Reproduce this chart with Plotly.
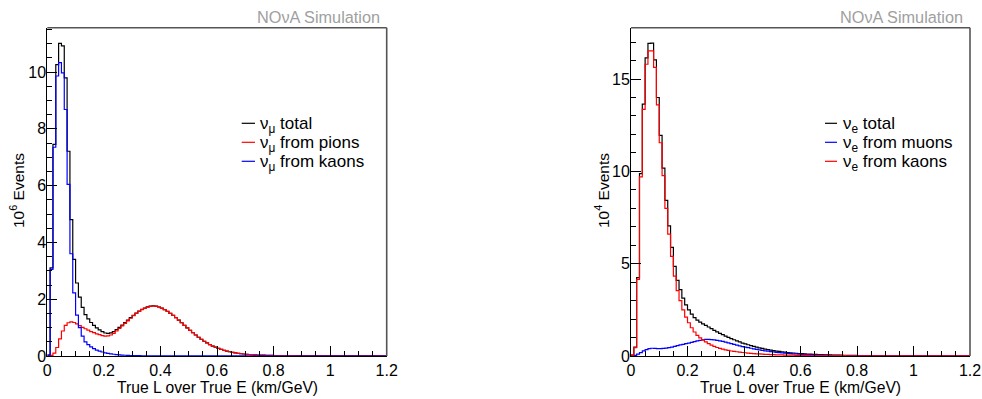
import plotly.graph_objects as go

# Binning of L/E histograms (km/GeV)
BIN_WIDTH = 0.01
N_BINS = 120
EDGES = [round(i * BIN_WIDTH, 4) for i in range(N_BINS + 1)]

# ---- nu_mu spectrum, units of 10^6 events ----
NUMU_TOTAL = [
    0.03, 3.10, 7.45, 10.26, 11.01, 10.92, 9.79, 7.21, 4.80, 3.40,
    2.57, 2.07, 1.71, 1.46, 1.31, 1.18, 1.08, 0.99, 0.92, 0.86,
    0.81, 0.80, 0.815, 0.86, 0.93, 1.01, 1.09, 1.18, 1.26, 1.35,
    1.435, 1.51, 1.58, 1.64, 1.69, 1.73, 1.755, 1.765, 1.755, 1.725,
    1.685, 1.635, 1.575, 1.50, 1.43, 1.35, 1.26, 1.17, 1.08, 0.99,
    0.90, 0.82, 0.74, 0.66, 0.59, 0.52, 0.46, 0.40, 0.35, 0.31,
    0.27, 0.23, 0.20, 0.17, 0.15, 0.13, 0.11, 0.095, 0.08, 0.07,
    0.06, 0.052, 0.046, 0.04, 0.035, 0.031, 0.028, 0.025, 0.022, 0.02,
    0.018, 0.016, 0.014, 0.013, 0.012, 0.011, 0.01, 0.009, 0.008, 0.007,
    0.006, 0.006, 0.005, 0.005, 0.004, 0.004, 0.004, 0.003, 0.003, 0.003,
    0.003, 0.002, 0.002, 0.002, 0.002, 0.002, 0.002, 0.001, 0.001, 0.001,
    0.001, 0.001, 0.001, 0.001, 0.001, 0.001, 0.001, 0.001, 0.001, 0.001,
]
NUMU_PIONS = [
    0.0, 0.02, 0.10, 0.30, 0.60, 0.88, 1.08, 1.17, 1.20, 1.18,
    1.13, 1.07, 1.01, 0.96, 0.91, 0.86, 0.82, 0.78, 0.75, 0.72,
    0.70, 0.71, 0.74, 0.80, 0.88, 0.97, 1.06, 1.15, 1.24, 1.33,
    1.42, 1.50, 1.57, 1.63, 1.68, 1.72, 1.75, 1.76, 1.75, 1.72,
    1.68, 1.63, 1.57, 1.50, 1.43, 1.35, 1.26, 1.17, 1.08, 0.99,
    0.90, 0.82, 0.74, 0.66, 0.59, 0.52, 0.46, 0.40, 0.35, 0.31,
    0.27, 0.23, 0.20, 0.17, 0.15, 0.13, 0.11, 0.095, 0.08, 0.07,
    0.06, 0.052, 0.046, 0.04, 0.035, 0.031, 0.028, 0.025, 0.022, 0.02,
    0.018, 0.016, 0.014, 0.013, 0.012, 0.011, 0.01, 0.009, 0.008, 0.007,
    0.006, 0.006, 0.005, 0.005, 0.004, 0.004, 0.004, 0.003, 0.003, 0.003,
    0.003, 0.002, 0.002, 0.002, 0.002, 0.002, 0.002, 0.001, 0.001, 0.001,
    0.001, 0.001, 0.001, 0.001, 0.001, 0.001, 0.001, 0.001, 0.001, 0.001,
]
NUMU_KAONS = [
    0.03, 3.05, 7.35, 9.86, 10.33, 9.97, 8.68, 6.04, 3.60, 2.22,
    1.44, 1.00, 0.70, 0.50, 0.40, 0.32, 0.26, 0.21, 0.17, 0.14,
    0.11, 0.09, 0.075, 0.062, 0.05, 0.04, 0.033, 0.027, 0.022, 0.018,
    0.015, 0.012, 0.01, 0.008, 0.007, 0.006, 0.005, 0.004, 0.004, 0.003,
    0.003, 0.003, 0.002, 0.002, 0.002, 0.002, 0.002, 0.002, 0.002, 0.002,
    0.002, 0.002, 0.002, 0.002, 0.002, 0.001, 0.001, 0.001, 0.001, 0.001,
    0.001, 0.001, 0.001, 0.001, 0.001, 0.001, 0.001, 0.001, 0.001, 0.001,
    0.001, 0.001, 0.001, 0.001, 0.001, 0.001, 0.001, 0.001, 0.001, 0.001,
    0.0, 0.0, 0.0, 0.0, 0.0, 0.0, 0.0, 0.0, 0.0, 0.0,
    0.0, 0.0, 0.0, 0.0, 0.0, 0.0, 0.0, 0.0, 0.0, 0.0,
    0.0, 0.0, 0.0, 0.0, 0.0, 0.0, 0.0, 0.0, 0.0, 0.0,
    0.0, 0.0, 0.0, 0.0, 0.0, 0.0, 0.0, 0.0, 0.0, 0.0,
]

# ---- nu_e spectrum, units of 10^4 events ----
NUE_TOTAL = [
    0.05, 0.48, 4.25, 9.88, 13.64, 16.15, 16.93, 16.95, 16.04, 14.00,
    11.95, 10.18, 8.43, 7.05, 5.88, 4.85, 4.10, 3.60, 3.13, 2.77,
    2.50, 2.27, 2.08, 1.94, 1.83, 1.74, 1.66, 1.57, 1.48, 1.39,
    1.31, 1.23, 1.16, 1.08, 1.01, 0.94, 0.88, 0.82, 0.76, 0.70,
    0.655, 0.61, 0.565, 0.52, 0.48, 0.44, 0.41, 0.372, 0.345, 0.318,
    0.292, 0.266, 0.246, 0.226, 0.207, 0.188, 0.175, 0.162, 0.149, 0.136,
    0.126, 0.117, 0.108, 0.099, 0.092, 0.086, 0.08, 0.074, 0.069, 0.064,
    0.059, 0.054, 0.05, 0.046, 0.043, 0.04, 0.037, 0.034, 0.031, 0.029,
    0.027, 0.025, 0.023, 0.021, 0.02, 0.018, 0.017, 0.016, 0.015, 0.014,
    0.013, 0.012, 0.011, 0.011, 0.01, 0.01, 0.009, 0.009, 0.008, 0.008,
    0.008, 0.007, 0.007, 0.007, 0.006, 0.006, 0.006, 0.006, 0.005, 0.005,
    0.005, 0.005, 0.005, 0.005, 0.004, 0.004, 0.004, 0.004, 0.004, 0.004,
]
NUE_MUONS = [
    0.0, 0.03, 0.10, 0.18, 0.28, 0.35, 0.40, 0.42, 0.41, 0.40,
    0.40, 0.41, 0.43, 0.45, 0.48, 0.52, 0.56, 0.60, 0.63, 0.67,
    0.70, 0.74, 0.78, 0.82, 0.85, 0.88, 0.90, 0.90, 0.89, 0.87,
    0.85, 0.82, 0.79, 0.75, 0.71, 0.67, 0.63, 0.59, 0.55, 0.51,
    0.48, 0.45, 0.42, 0.39, 0.36, 0.33, 0.31, 0.28, 0.26, 0.24,
    0.22, 0.20, 0.185, 0.17, 0.155, 0.14, 0.13, 0.12, 0.11, 0.10,
    0.092, 0.085, 0.078, 0.071, 0.065, 0.06, 0.055, 0.05, 0.046, 0.042,
    0.038, 0.035, 0.032, 0.029, 0.027, 0.025, 0.023, 0.021, 0.019, 0.018,
    0.016, 0.015, 0.014, 0.013, 0.012, 0.011, 0.01, 0.009, 0.009, 0.008,
    0.008, 0.007, 0.007, 0.006, 0.006, 0.006, 0.005, 0.005, 0.005, 0.005,
    0.004, 0.004, 0.004, 0.004, 0.004, 0.003, 0.003, 0.003, 0.003, 0.003,
    0.003, 0.003, 0.003, 0.003, 0.002, 0.002, 0.002, 0.002, 0.002, 0.002,
]
NUE_KAONS = [
    0.05, 0.45, 4.15, 9.70, 13.36, 15.80, 16.53, 16.53, 15.63, 13.60,
    11.55, 9.77, 8.00, 6.60, 5.40, 4.33, 3.54, 3.00, 2.50, 2.10,
    1.80, 1.53, 1.30, 1.12, 0.98, 0.86, 0.76, 0.67, 0.59, 0.52,
    0.46, 0.41, 0.37, 0.33, 0.30, 0.27, 0.25, 0.23, 0.21, 0.19,
    0.175, 0.16, 0.145, 0.13, 0.12, 0.11, 0.10, 0.092, 0.085, 0.078,
    0.072, 0.066, 0.061, 0.056, 0.052, 0.048, 0.045, 0.042, 0.039, 0.036,
    0.034, 0.032, 0.03, 0.028, 0.027, 0.026, 0.025, 0.024, 0.023, 0.022,
    0.021, 0.019, 0.018, 0.017, 0.016, 0.015, 0.014, 0.013, 0.012, 0.011,
    0.011, 0.01, 0.009, 0.008, 0.008, 0.007, 0.007, 0.007, 0.006, 0.006,
    0.005, 0.005, 0.004, 0.005, 0.004, 0.004, 0.004, 0.004, 0.003, 0.003,
    0.004, 0.003, 0.003, 0.003, 0.002, 0.003, 0.003, 0.003, 0.002, 0.002,
    0.002, 0.002, 0.002, 0.002, 0.002, 0.002, 0.002, 0.002, 0.002, 0.002,
]

for series in (NUMU_TOTAL, NUMU_PIONS, NUMU_KAONS, NUE_TOTAL, NUE_MUONS, NUE_KAONS):
    assert len(series) == N_BINS

# ---- layout geometry (pixels) ----
W, H = 982, 399
FONT = "Liberation Sans, Arial, Helvetica, sans-serif"
PANELS = [
    dict(x0=47.3, x1=386.7, ymax=11.56, ydtick=2, yminor=0.5, xa="x", ya="y",
         ytitle="10<sup>6</sup> Events", ytitle_x=17, nova_x=381.7),
    dict(x0=631.0, x1=970.0, ymax=17.78, ydtick=5, yminor=1, xa="x2", ya="y2",
         ytitle="10<sup>4</sup> Events", ytitle_x=602, nova_x=965.0),
]
PLOT_TOP, PLOT_BOTTOM = 27.7, 356.0


def px(x):
    return x / W


def py(y):
    return 1 - y / H


def step_xy(values):
    # histogram outline: one horizontal segment per bin
    return EDGES, list(values) + [values[-1]]


fig = go.Figure()

left_series = [
    (NUMU_TOTAL, "black", "ν<sub>μ</sub> total"),
    (NUMU_PIONS, "red", "ν<sub>μ</sub> from pions"),
    (NUMU_KAONS, "blue", "ν<sub>μ</sub> from kaons"),
]
right_series = [
    (NUE_TOTAL, "black", "ν<sub>e</sub> total"),
    (NUE_MUONS, "blue", "ν<sub>e</sub> from muons"),
    (NUE_KAONS, "red", "ν<sub>e</sub> from kaons"),
]

for panel, series_list in zip(PANELS, (left_series, right_series)):
    for values, color, name in series_list:
        xs, ys = step_xy(values)
        fig.add_trace(go.Scatter(
            x=xs, y=ys, mode="lines", line=dict(color=color, width=1.2, shape="hv"),
            name=name, showlegend=False, xaxis=panel["xa"], yaxis=panel["ya"],
            hoverinfo="skip",
        ))

annotations = []
shapes = []
for i, panel in enumerate(PANELS):
    sfx = "" if i == 0 else "2"
    common = dict(
        showline=True, linecolor="black", linewidth=1, mirror=False,
        ticks="inside", tickcolor="black", tickwidth=1, ticklen=10,
        showgrid=False, zeroline=False, automargin=False,
        tickfont=dict(family=FONT, size=16, color="black"),
    )
    fig.layout["xaxis" + sfx] = dict(
        common, domain=[px(panel["x0"]), px(panel["x1"])], range=[0, 1.2],
        tick0=0, dtick=0.2, anchor="y" + sfx,
        minor=dict(ticks="inside", ticklen=5, tickcolor="black", dtick=0.05, showgrid=False),
    )
    fig.layout["yaxis" + sfx] = dict(
        common, domain=[py(PLOT_BOTTOM), py(PLOT_TOP)], range=[0, panel["ymax"]],
        tick0=0, dtick=panel["ydtick"], anchor="x" + sfx, ticklabelstandoff=-3,
        minor=dict(ticks="inside", ticklen=5, tickcolor="black", dtick=panel["yminor"], showgrid=False),
    )
    # top and right frame edges
    for (ax0, ay0, ax1, ay1) in [
        (panel["x0"], PLOT_TOP, panel["x1"], PLOT_TOP),
        (panel["x1"], PLOT_TOP, panel["x1"], PLOT_BOTTOM),
    ]:
        shapes.append(dict(type="line", xref="paper", yref="paper",
                           x0=px(ax0), y0=py(ay0), x1=px(ax1), y1=py(ay1),
                           line=dict(color="#555555", width=1.6)))
    # axis titles
    annotations.append(dict(
        text="True L over True E (km/GeV)", xref="paper", yref="paper",
        x=px((panel["x0"] + panel["x1"]) / 2), y=py(387), xanchor="center", yanchor="middle",
        showarrow=False, font=dict(family=FONT, size=15.7, color="black"),
    ))
    annotations.append(dict(
        text=panel["ytitle"], xref="paper", yref="paper", textangle=-90,
        x=px(panel["ytitle_x"]), y=py(191), xanchor="center", yanchor="middle",
        showarrow=False, font=dict(family=FONT, size=15.5, color="black"),
    ))
    # experiment label
    annotations.append(dict(
        text="NOνA Simulation", xref="paper", yref="paper",
        x=px(panel["nova_x"]), y=py(17), xanchor="right", yanchor="middle",
        showarrow=False, font=dict(family=FONT, size=16.3, color="#a0a0a0"),
    ))

# legend entries
LEGEND_ROWS = [123.3, 142.3, 161.3]
LEGEND_LINE = [(241.7, 255.0, 258.3), (825.0, 837.0, 840.5)]
for (lx0, lx1, tx), series_list in zip(LEGEND_LINE, (left_series, right_series)):
    for row_y, (_, color, name) in zip(LEGEND_ROWS, series_list):
        shapes.append(dict(type="line", xref="paper", yref="paper",
                           x0=px(lx0), x1=px(lx1), y0=py(row_y), y1=py(row_y),
                           line=dict(color=color, width=1.2)))
        annotations.append(dict(
            text=name, xref="paper", yref="paper", x=px(tx), y=py(row_y + 2),
            xanchor="left", yanchor="middle", showarrow=False,
            font=dict(family=FONT, size=17, color="black"),
        ))

fig.update_layout(
    width=W, height=H, margin=dict(l=0, r=0, t=0, b=0),
    paper_bgcolor="white", plot_bgcolor="white",
    showlegend=False, annotations=annotations, shapes=shapes,
    font=dict(family=FONT),
)

fig.write_html("out.html")
